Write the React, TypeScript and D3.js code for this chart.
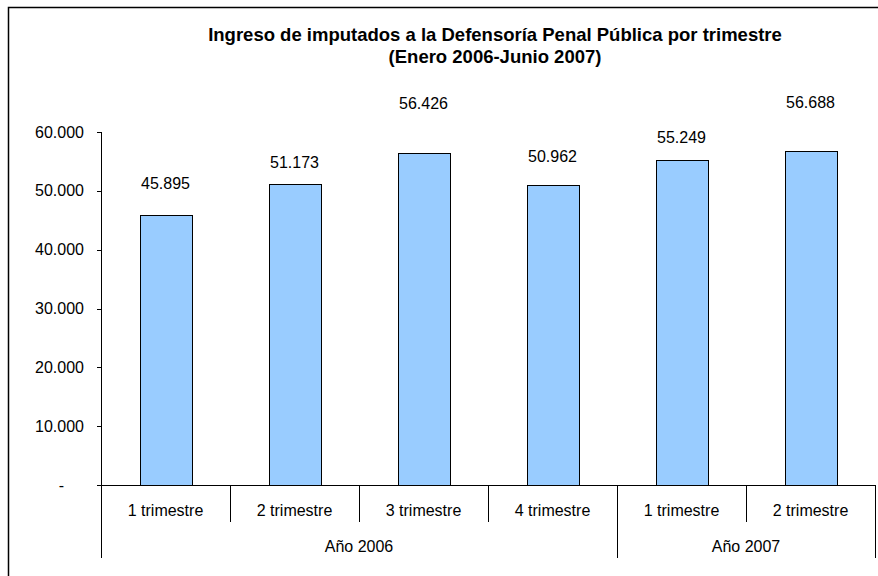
import React from "react";
import * as d3 from "d3";

const quarters = ["1 trimestre", "2 trimestre", "3 trimestre", "4 trimestre", "1 trimestre", "2 trimestre"];
const years = ["Año 2006", "Año 2007"];
const yearSpans = [4, 2];
const values = [45895, 51173, 56426, 50962, 55249, 56688];
const yTicks = [0, 10000, 20000, 30000, 40000, 50000, 60000];
const labelOffsets = [32, 22, 50, 29, 23, 49];
const titleLines = ["Ingreso de imputados a la Defensoría Penal Pública por trimestre", "(Enero 2006-Junio 2007)"];

const W = 878;
const H = 576;
const left = 101;
const right = 875;
const top = 132;
const bottom = 485;

const fmt = (v: number) => (v === 0 ? "-" : d3.format(",")(v).replace(/,/g, "."));

export default function App() {
  const idx = values.map((_, i) => String(i));
  const x = d3.scaleBand<string>().domain(idx).range([left, right]).paddingInner(0.6).paddingOuter(0.3);
  const y = d3.scaleLinear().domain([0, 60000]).range([bottom, top]);
  const cw = (right - left) / values.length;
  const catX = (i: number) => left + i * cw;
  const font = "Liberation Sans, Arial, sans-serif";

  let acc = 0;
  const yearGroups = years.map((name, k) => {
    const start = acc;
    acc += yearSpans[k];
    return { name, start, end: acc };
  });

  return (
    <svg width={W} height={H} style={{ position: "absolute", left: 0, top: 0 }} fontFamily={font}>
      <rect x={0} y={0} width={W} height={H} fill="#fff" />
      <rect x={8.5} y={7.5} width={W + 20} height={H + 20} fill="none" stroke="#000" strokeWidth={1.5} />
      {titleLines.map((t, i) => (
        <text key={i} x={495} y={41 + i * 22} textAnchor="middle" fontSize={18.5} fontWeight="bold">
          {t}
        </text>
      ))}
      {/* y axis */}
      <line x1={left + 0.5} x2={left + 0.5} y1={top} y2={bottom} stroke="#000" />
      {yTicks.map((t) => (
        <g key={t}>
          <line x1={left - 4} x2={left} y1={Math.round(y(t)) + 0.5} y2={Math.round(y(t)) + 0.5} stroke="#000" />
          <text x={t === 0 ? 64 : 84} y={y(t) + 5.5} textAnchor="end" fontSize={16}>
            {fmt(t)}
          </text>
        </g>
      ))}
      {/* bars */}
      {values.map((v, i) => {
        const bx = catX(i) + (cw - x.bandwidth()) / 2;
        return (
          <g key={i}>
            <rect
              x={Math.round(bx) + 0.5}
              y={Math.round(y(v)) + 0.5}
              width={Math.round(x.bandwidth())}
              height={Math.round(bottom - y(v))}
              fill="#99CCFF"
              stroke="#000"
              strokeWidth={1}
            />
            <text x={catX(i) + cw / 2} y={y(v) - labelOffsets[i] + 6} textAnchor="middle" fontSize={16}>
              {fmt(v)}
            </text>
          </g>
        );
      })}
      {/* x axis */}
      <line x1={left - 4} x2={right} y1={bottom + 0.5} y2={bottom + 0.5} stroke="#000" />
      {quarters.map((q, i) => (
        <g key={i}>
          <line
            x1={Math.round(catX(i)) + 0.5}
            x2={Math.round(catX(i)) + 0.5}
            y1={bottom}
            y2={yearGroups.some((g) => g.start === i) ? 558 : 522}
            stroke="#000"
          />
          <text x={catX(i) + cw / 2} y={516} textAnchor="middle" fontSize={16}>
            {q}
          </text>
        </g>
      ))}
      <line x1={right + 0.5} x2={right + 0.5} y1={bottom} y2={558} stroke="#000" />
      {yearGroups.map((g) => (
        <text key={g.name} x={(catX(g.start) + catX(g.end)) / 2} y={552} textAnchor="middle" fontSize={16}>
          {g.name}
        </text>
      ))}
    </svg>
  );
}
